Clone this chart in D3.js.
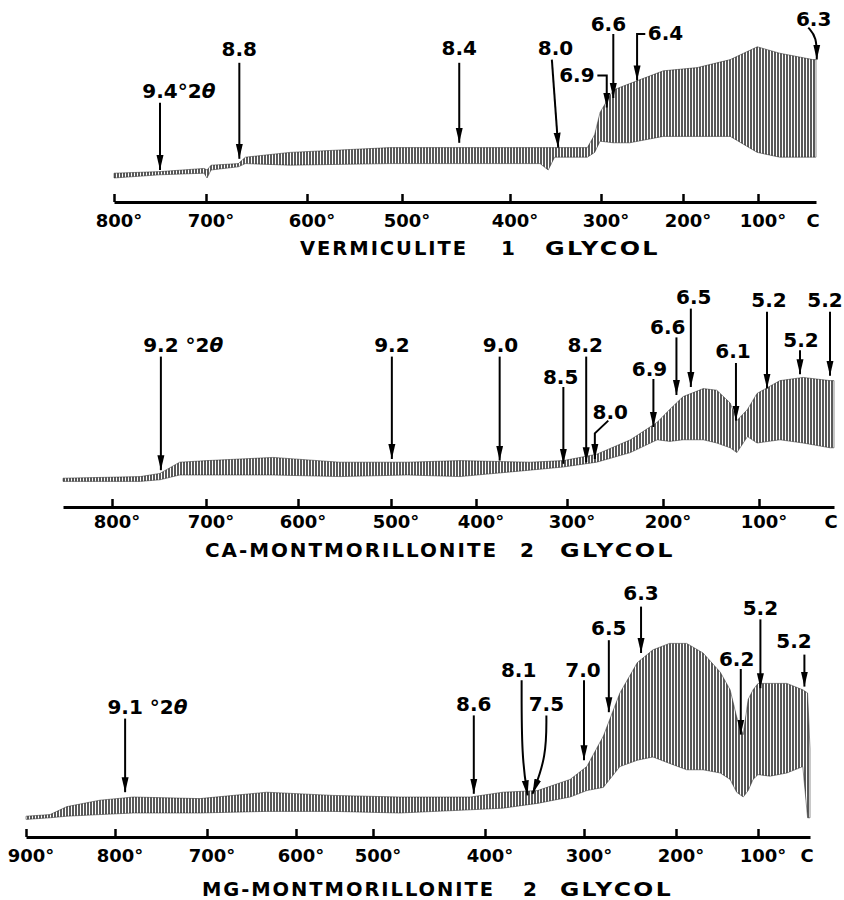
<!DOCTYPE html>
<html>
<head>
<meta charset="utf-8">
<script src="https://cdn.jsdelivr.net/npm/d3@7"></script>
<style>
  body { margin: 0; background: #fff; }
  svg { display: block; }
  text { font-family: "DejaVu Sans", sans-serif; font-weight: bold; fill: #000; }
</style>
</head>
<body>
<svg id="chart" width="844" height="900"></svg>
<script>
// ---- vermiculite, 1 glycol ----
const vermTicks = [800, 700, 600, 500, 400, 300, 200, 100]
const vermTemp = [800, 750, 702, 699, 695, 668, 661, 617, 513, 449, 367, 358, 351, 315, 307, 301, 285, 265, 224, 181, 137, 101, 72, 29, 25]
const vermHigh = [18, 19, 21, 20, 23, 24, 28, 31, 34, 34, 34, 34, 34, 34, 42, 56, 70, 74, 82, 84, 89, 97, 93, 89, 89]
const vermLow  = [15, 17, 18, 15, 20, 22, 24, 23, 24, 24, 24, 20, 28, 28, 31, 38, 37, 37, 41, 41, 41, 31, 28, 28, 28]
const vermTitle = ['VERMICULITE', '1', 'GLYCOL']
// peak labels: text, label temp/level, arrow points [temp, level]
const vermPeaks = [
  { text: '9.4', suffix: '°2θ', lt: 750, ll: 65, pts: [[750, 62], [750, 20]] },
  { text: '8.8', lt: 667, ll: 91, pts: [[667, 87], [667, 27]] },
  { text: '8.4', lt: 447, ll: 92, pts: [[447, 87], [447, 37]] },
  { text: '8.0', lt: 350, ll: 92, pts: [[354, 89], [347, 34]] },
  { text: '6.6', lt: 291, ll: 107, pts: [[285, 105], [285, 65]] },
  { text: '6.9', anchor: 'end', lt: 307, ll: 75, pts: [[304, 79], [293, 79], [293, 59]] },
  { text: '6.4', anchor: 'start', lt: 243, ll: 101, pts: [[246, 105], [256, 105], [256, 76]] },
  { text: '6.3', lt: 28, ll: 110, curve: true, pts: [[35, 109], [24, 103], [24, 89]] }
]

// ---- Ca-montmorillonite, 2 glycol ----
const caTicks = [800, 700, 600, 500, 400, 300, 200, 100]
const caTemp = [850, 770, 749, 728, 699, 627, 555, 481, 419, 341, 304, 269, 234, 206, 193, 179, 158, 144, 130, 123, 112, 102, 79, 56, 29, 25]
const caHigh = [18, 19, 21, 28, 29, 31, 28, 28, 29, 28, 29, 33, 42, 53, 61, 69, 74, 73, 65, 54, 61, 71, 79, 81, 79, 79]
const caLow  = [16, 16, 17, 20, 20, 20, 19, 20, 19, 23, 25, 28, 34, 42, 41, 42, 42, 40, 37, 34, 44, 40, 42, 40, 37, 37]
const caTitle = ['CA-MONTMORILLONITE', '2', 'GLYCOL']
const caPeaks = [
  { text: '9.2', suffix: ' °2θ', lt: 748, ll: 97, pts: [[748, 94], [748, 23]] },
  { text: '9.2', lt: 499, ll: 97, pts: [[499, 94], [499, 30]] },
  { text: '9.0', lt: 373, ll: 97, pts: [[374, 94], [374, 29]] },
  { text: '8.5', lt: 307, ll: 77, pts: [[304, 75], [304, 27]] },
  { text: '8.2', lt: 281, ll: 97, pts: [[280, 94], [280, 28]] },
  { text: '8.0', lt: 255, ll: 55, pts: [[257, 54], [271, 46], [271, 30]] },
  { text: '6.9', lt: 214, ll: 82, pts: [[210, 80], [210, 50]] },
  { text: '6.6', lt: 195, ll: 108, pts: [[186, 106], [186, 70]] },
  { text: '6.5', lt: 168, ll: 127, pts: [[171, 124], [171, 75]] },
  { text: '6.1', lt: 127, ll: 93, pts: [[124, 90], [124, 54]] },
  { text: '5.2', lt: 90, ll: 125, pts: [[92, 122], [92, 74]] },
  { text: '5.2', lt: 58, ll: 100, pts: [[59, 98], [59, 83]] },
  { text: '5.2', lt: 34, ll: 125, pts: [[29, 122], [29, 82]] }
]

// ---- Mg-montmorillonite, 2 glycol ----
const mgTicks = [900, 800, 700, 600, 500, 400, 300, 200, 100]
const mgTemp = [900, 873, 854, 817, 780, 708, 633, 552, 476, 413, 382, 347, 314, 297, 279, 261, 242, 225, 207, 187, 167, 146, 134, 126, 118, 112, 106, 100, 85, 64, 44, 38, 35]
const mgHigh = [13, 14, 19, 23, 25, 24, 28, 26, 25, 25, 28, 29, 36, 44, 63, 90, 109, 117, 121, 121, 115, 103, 92, 75, 64, 86, 92, 96, 96, 96, 92, 90, 55]
const mgLow  = [11, 12, 13, 14, 15, 15, 16, 16, 15, 17, 18, 21, 25, 29, 31, 44, 48, 50, 46, 42, 42, 40, 36, 28, 25, 29, 36, 39, 38, 40, 44, 12, 12]
const mgTitle = ['MG-MONTMORILLONITE', '2', 'GLYCOL']
const mgPeaks = [
  { text: '9.1', suffix: ' °2θ', lt: 789, ll: 77, pts: [[789, 74], [789, 28]] },
  { text: '8.6', lt: 410, ll: 79, pts: [[410, 76], [410, 27]] },
  { text: '8.1', lt: 366, ll: 100, curve: true, pts: [[363, 98], [363, 50], [357, 26]] },
  { text: '7.5', lt: 338, ll: 79, curve: true, pts: [[338, 76], [338, 50], [352, 27]] },
  { text: '7.0', lt: 301, ll: 100, pts: [[300, 98], [300, 48]] },
  { text: '6.5', lt: 273, ll: 126, pts: [[273, 123], [273, 78]] },
  { text: '6.3', lt: 238, ll: 148, pts: [[238, 144], [238, 115]] },
  { text: '6.2', lt: 126, ll: 107, pts: [[121, 105], [121, 64]] },
  { text: '5.2', lt: 97, ll: 139, pts: [[97, 136], [97, 93]] },
  { text: '5.2', lt: 55, ll: 118, pts: [[42, 114], [42, 94]] }
]

// layout: the temperature axis is not linear, so each panel pins its ticks to pixels
const panels = [
  { temp: vermTemp, high: vermHigh, low: vermLow, ticks: vermTicks, peaks: vermPeaks, title: vermTitle,
    axisY: 202, pad: 12, stopsT: [800, 700, 600, 500, 400, 300, 200, 100, 25],
    stopsPx: [114, 206, 307, 402, 510, 601, 683, 758, 816],
    titleY: 255, titleSpans: [[300, 468], [508], [545, 660]] },
  { temp: caTemp, high: caHigh, low: caLow, ticks: caTicks, peaks: caPeaks, title: caTitle,
    axisY: 507, pad: 8, stopsT: [850, 800, 700, 600, 500, 400, 300, 200, 100, 25],
    stopsPx: [63, 112, 206, 298, 391, 476, 567, 663, 759, 834],
    titleY: 557, titleSpans: [[205, 498], [527], [560, 675]] },
  { temp: mgTemp, high: mgHigh, low: mgLow, ticks: mgTicks, peaks: mgPeaks, title: mgTitle,
    axisY: 837, pad: 12, stopsT: [900, 800, 700, 600, 500, 400, 300, 200, 100, 35],
    stopsPx: [26, 115, 207, 296, 373, 485, 584, 676, 758, 810],
    titleY: 896, titleSpans: [[202, 495], [530], [560, 673]] }
]

const svg = d3.select('#chart')
const defs = svg.append('defs')

// vertical hatching stands in for the recorder's oscillating pen
const pat = defs.append('pattern')
  .attr('id', 'osc')
  .attr('patternUnits', 'userSpaceOnUse')
  .attr('width', 3)
  .attr('height', 8)
pat.append('line')
  .attr('x1', 1).attr('x2', 1).attr('y1', 0).attr('y2', 8)
  .attr('stroke', '#000').attr('stroke-width', 1.3)

defs.append('marker')
  .attr('id', 'head')
  .attr('markerUnits', 'userSpaceOnUse')
  .attr('markerWidth', 16).attr('markerHeight', 8)
  .attr('refX', 15).attr('refY', 4)
  .attr('orient', 'auto')
  .append('path')
  .attr('d', 'M0,0.5L15,4L0,7.5Z')
  .attr('fill', '#000')

panels.forEach(p => {
  const g = svg.append('g')
  const x = d3.scaleLinear().domain(p.stopsT).range(p.stopsPx)
  const y = d3.scaleLinear().domain([0, 100]).range([p.axisY, p.axisY - 160])

  const rows = p.temp.map((t, i) => ({ t: t, hi: p.high[i], lo: p.low[i] }))
  const area = d3.area()
    .x(d => x(d.t))
    .y0(d => y(d.lo))
    .y1(d => y(d.hi))

  g.append('path')
    .datum(rows)
    .attr('d', area)
    .attr('fill', 'url(#osc)')
    .attr('stroke', '#222')
    .attr('stroke-width', 0.5)

  // axis with ticks pointing up
  const axis = d3.axisBottom(x)
    .tickValues(p.ticks)
    .tickFormat(d => d + '°')
    .tickSizeInner(-8)
    .tickSizeOuter(0)
    .tickPadding(p.pad)

  const ax = g.append('g')
    .attr('transform', `translate(0,${p.axisY})`)
    .call(axis)
    .attr('font-size', 18)
    .attr('font-family', '"DejaVu Sans", sans-serif')

  ax.select('.domain').attr('stroke-width', 3)
  ax.selectAll('.tick line').attr('stroke-width', 2.5)
  ax.selectAll('.tick text').attr('dx', '0.25em')

  g.append('text')
    .attr('x', x(p.stopsT[p.stopsT.length - 1]) - 3)
    .attr('y', p.axisY + p.pad + 13)
    .attr('text-anchor', 'middle')
    .attr('font-size', 18)
    .text('C')

  // title words
  p.title.forEach((w, i) => {
    const span = p.titleSpans[i]
    const t = g.append('text')
      .attr('y', p.titleY)
      .attr('font-size', 20)
      .attr('letter-spacing', 2)
      .text(w)
    if (span.length === 2) {
      t.attr('x', span[0])
        .attr('textLength', span[1] - span[0])
        .attr('lengthAdjust', 'spacingAndGlyphs')
    } else {
      t.attr('x', span[0]).attr('text-anchor', 'middle').attr('letter-spacing', 0)
    }
  })

  // peak arrows
  const line = d3.line().x(d => x(d[0])).y(d => y(d[1]))
  p.peaks.forEach(pk => {
    line.curve(pk.curve ? d3.curveBasis : d3.curveLinear)
    g.append('path')
      .attr('d', line(pk.pts))
      .attr('fill', 'none')
      .attr('stroke', '#000')
      .attr('stroke-width', 2)
      .attr('marker-end', 'url(#head)')

    const lab = g.append('text')
      .attr('x', x(pk.lt))
      .attr('y', y(pk.ll))
      .attr('font-size', 20)
      .attr('text-anchor', pk.anchor || 'middle')
      .text(pk.text)

    if (pk.suffix) {
      const w = lab.node().getComputedTextLength()
      const s = g.append('text')
        .attr('x', x(pk.lt) + w / 2)
        .attr('y', y(pk.ll))
        .attr('font-size', 20)
        .style('white-space', 'pre')
      const parts = pk.suffix.split('θ')
      s.append('tspan').text(parts[0])
      s.append('tspan').attr('font-style', 'italic').text('θ')
    }
  })
})
</script>
</body>
</html>
